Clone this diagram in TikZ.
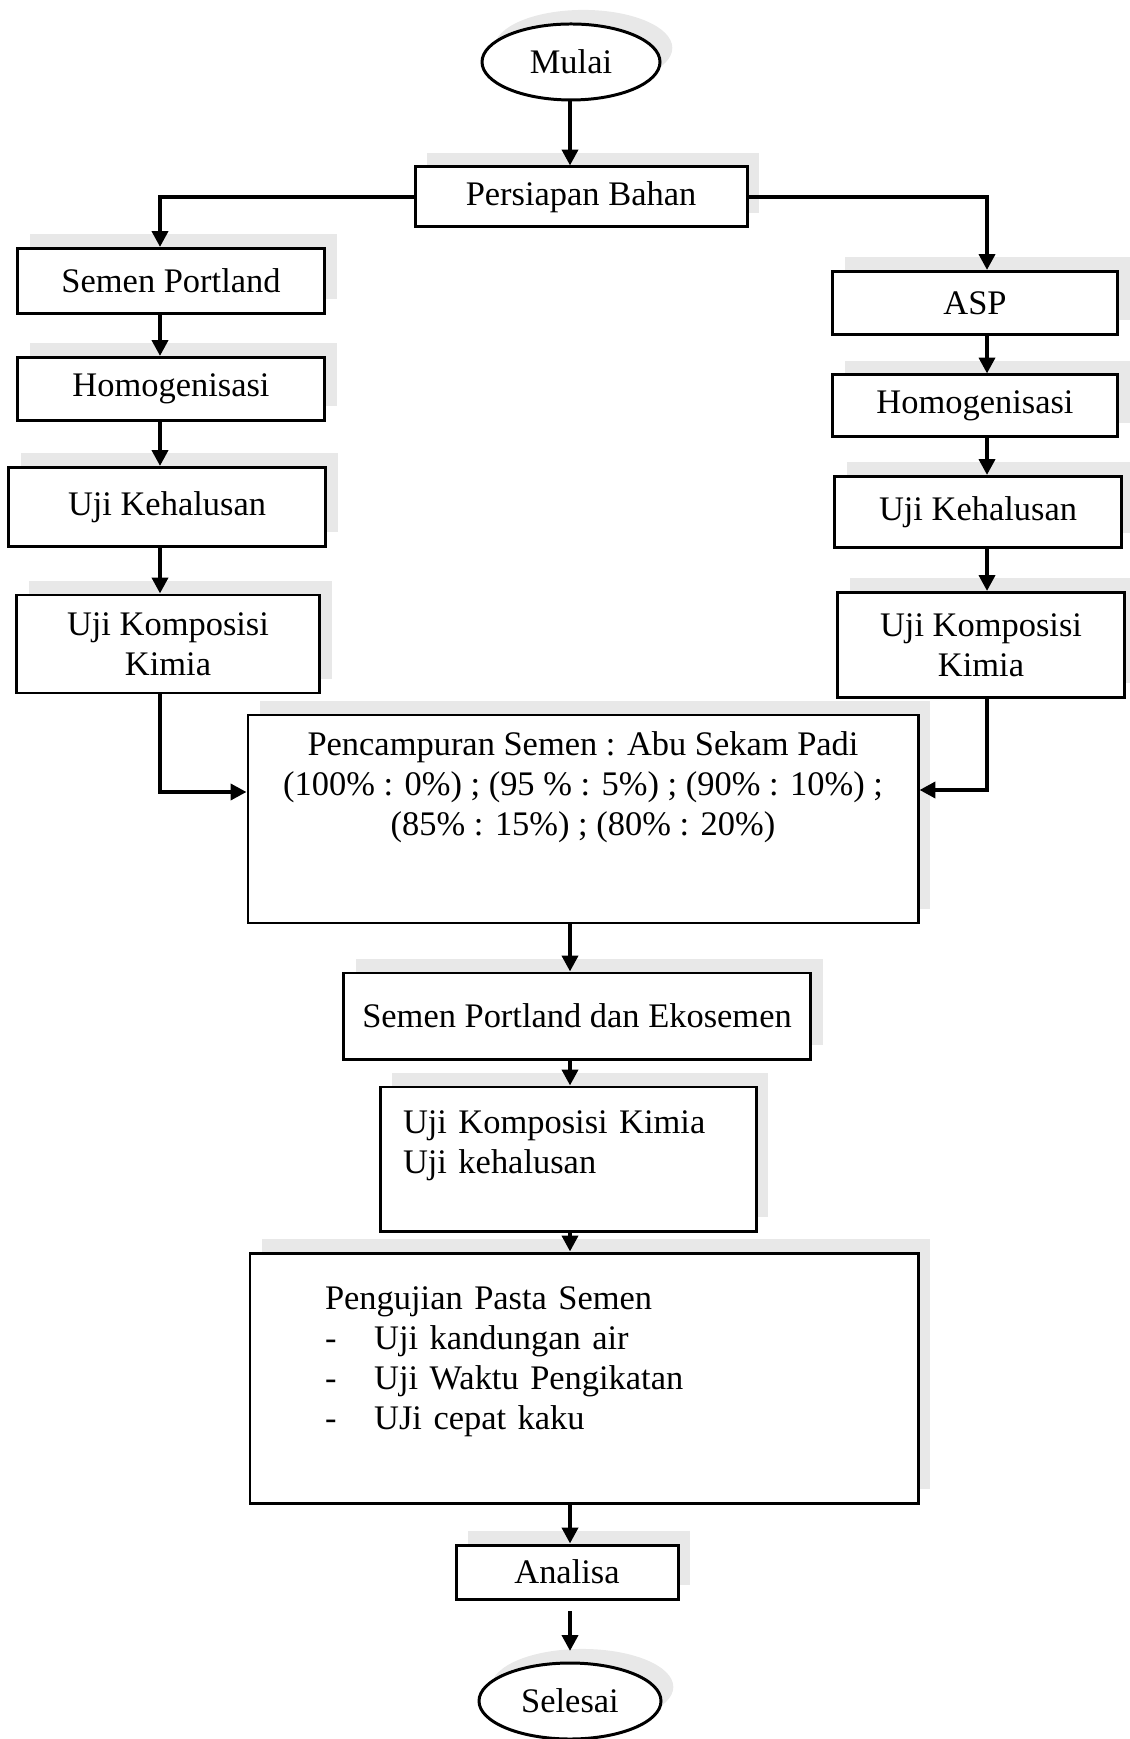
\documentclass[tikz,border=0pt]{standalone}
\usepackage{fontspec}
\setmainfont{Liberation Serif}
\usetikzlibrary{shapes.geometric, arrows.meta, shadows}

\begin{document}
\begin{tikzpicture}[
		box/.style={draw, line width=0.85pt, fill=white, inner sep=2pt,
			font=\fontsize{9.8}{11.4}\selectfont,
			drop shadow={shadow xshift=3.5pt, shadow yshift=4pt, fill=black!18}},
		term/.style={box, ellipse},
		arr/.style={line width=1.1pt, -{Triangle[length=4.5pt, width=4.5pt]}}
	]
	\useasboundingbox (0,0) rectangle (11.30,-17.39);
	
	% x of the arrow columns
	\coordinate (colL) at (1.60,0);
	\coordinate (colM) at (5.70,0);
	\coordinate (colR) at (9.87,0);
	
	\node[term, minimum width=1.78cm, minimum height=0.76cm] (mulai) at (5.71,-0.62) {Mulai};
	\node[box, minimum width=3.32cm, minimum height=0.60cm] (bahan) at (5.81,-1.97) {Persiapan Bahan};
	
	% left column
	\node[box, minimum width=3.07cm, minimum height=0.65cm] (sp)     at (1.71,-2.81) {Semen Portland};
	\node[box, minimum width=3.07cm, minimum height=0.63cm] (homL)   at (1.71,-3.89) {Homogenisasi};
	\node[box, minimum width=3.17cm, minimum height=0.79cm] (halusL) at (1.67,-5.07) {Uji Kehalusan};
	\node[box, minimum width=3.03cm, minimum height=0.98cm, align=center] (komL) at (1.68,-6.44) {Uji Komposisi\\Kimia};
	
	% right column
	\node[box, minimum width=2.85cm, minimum height=0.63cm] (asp)    at (9.75,-3.03) {ASP};
	\node[box, minimum width=2.85cm, minimum height=0.62cm] (homR)   at (9.75,-4.06) {Homogenisasi};
	\node[box, minimum width=2.87cm, minimum height=0.71cm] (halusR) at (9.78,-5.12) {Uji Kehalusan};
	\node[box, minimum width=2.87cm, minimum height=1.05cm, align=center] (komR) at (9.81,-6.45) {Uji Komposisi\\Kimia};
	
	% middle
	\node[box, minimum width=6.70cm, minimum height=2.08cm, align=center] (campur) at (5.83,-8.19)
		{Pencampuran Semen : Abu Sekam Padi\\(100\% : 0\%) ; (95 \% : 5\%) ; (90\% : 10\%) ;\\(85\% : 15\%) ; (80\% : 20\%)\\[9pt]\mbox{}};
	\node[box, minimum width=4.67cm, minimum height=0.86cm] (eko) at (5.77,-10.16) {Semen Portland dan Ekosemen};
	\node[box, minimum width=3.76cm, minimum height=1.44cm, text width=3.30cm, align=left] (ujigab) at (5.68,-11.59)
		{Uji Komposisi Kimia\\Uji kehalusan\\[-2pt]\mbox{}};
	\node[box, minimum width=6.68cm, minimum height=2.50cm, text width=5.18cm, align=left] (pasta) at (5.84,-13.78)
		{Pengujian Pasta Semen\\
		\makebox[14pt][l]{-}Uji kandungan air\\
		\makebox[14pt][l]{-}Uji Waktu Pengikatan\\
		\makebox[14pt][l]{-}UJi cepat kaku\\ \mbox{}};
	\node[box, minimum width=2.22cm, minimum height=0.54cm] (analisa) at (5.67,-15.72) {Analisa};
	\node[term, minimum width=1.82cm, minimum height=0.76cm] (selesai) at (5.70,-17.01) {Selesai};
	
	% connectors
	\draw[arr] (mulai.south -| colM) -- (bahan.north -| colM);
	\draw[arr] (bahan.west) -| (sp.north -| colL);
	\draw[arr] (bahan.east) -| (asp.north -| colR);
	
	\draw[arr] (sp.south -| colL)     -- (homL.north -| colL);
	\draw[arr] (homL.south -| colL)   -- (halusL.north -| colL);
	\draw[arr] (halusL.south -| colL) -- (komL.north -| colL);
	
	\draw[arr] (asp.south -| colR)    -- (homR.north -| colR);
	\draw[arr] (homR.south -| colR)   -- (halusR.north -| colR);
	\draw[arr] (halusR.south -| colR) -- (komR.north -| colR);
	
	\draw[arr] (komL.south -| colL) |- ([yshift=0.27cm]campur.west);
	\draw[arr] (komR.south -| colR) |- ([yshift=0.29cm]campur.east);
	
	\draw[arr] (campur.south -| colM) -- (eko.north -| colM);
	\draw[arr] (eko.south -| colM)    -- (ujigab.north -| colM);
	\draw[arr] (ujigab.south -| colM) -- (pasta.north -| colM);
	\draw[arr] (pasta.south -| colM)  -- (analisa.north -| colM);
	\draw[arr, shorten <=3pt, shorten >=3pt] (analisa.south -| colM) -- (selesai.north -| colM);
	
\end{tikzpicture}
\end{document}
